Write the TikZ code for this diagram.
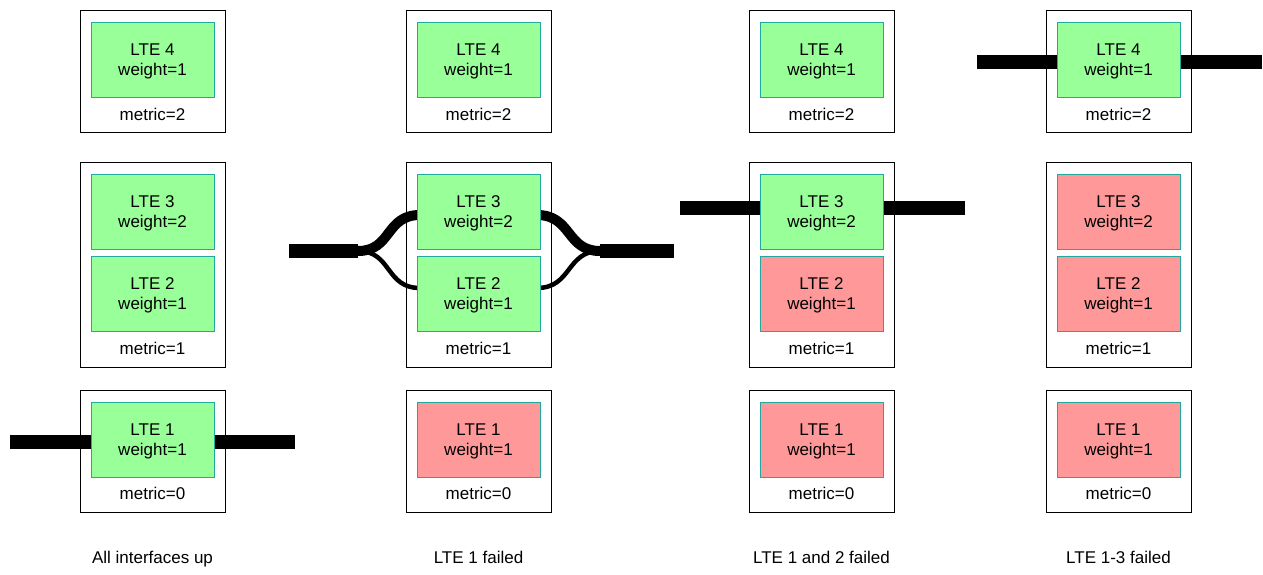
\documentclass[tikz,border=0pt]{standalone}
\usepackage{fontspec}
\setmainfont{Liberation Sans}
\usetikzlibrary{positioning}

\definecolor{upfill}{HTML}{99FF99}
\definecolor{downfill}{HTML}{FF9999}
\definecolor{lteedge}{HTML}{22A89E}

\begin{document}
\begin{tikzpicture}[
      x=1pt, y=-1pt,
      group/.style={
        draw,
        fill=white,
        line width=0.8pt,
        minimum width=145pt,
        inner sep=0pt
      },
      lte/.style={
        draw=lteedge,
        line width=1pt,
        minimum width=123pt,
        minimum height=75pt,
        inner sep=0pt,
        align=center,
        text depth=-2pt,
        font=\fontsize{17}{20}\selectfont
      },
      label/.style={
        text height=12pt,
        text depth=4pt,
        font=\fontsize{17}{20}\selectfont
      },
      link/.style={line width=14pt}
    ]
    \useasboundingbox (0,0) rectangle (1263,574);
    %% Groups
    \foreach \c/\x in {1/152.5, 2/478.5, 3/821.5, 4/1118.5} {
      \node[group, minimum height=122pt] (top-\c) at (\x,71) {};
      \node[group, minimum height=205pt] (mid-\c) at (\x,264.5) {};
      \node[group, minimum height=122pt] (bot-\c) at (\x,451) {};
    }
    %% Traffic
    \coordinate (in-1) at (10,442);
    \coordinate (out-1) at (295,442);
    \draw[link] (in-1) -- (out-1);
    \coordinate (in-3) at (680,208);
    \coordinate (out-3) at (965,208);
    \draw[link] (in-3) -- (out-3);
    \coordinate (in-4) at (977,62);
    \coordinate (out-4) at (1262,62);
    \draw[link] (in-4) -- (out-4);
    %% Load sharing over LTE 2 and 3
    \coordinate (in-2) at (289,251);
    \coordinate (split-l) at (358,251);
    \coordinate (split-r) at (600,251);
    \coordinate (out-2) at (674,251);
    \coordinate (lte3-w) at (420,215);
    \coordinate (lte3-e) at (537,215);
    \coordinate (lte2-w) at (420,288);
    \coordinate (lte2-e) at (537,288);
    \draw[link] (in-2) -- (split-l);
    \draw[link] (split-r) -- (out-2);
    \draw[line width=10pt] (split-l) .. controls (392,251) and (385,215) .. (lte3-w);
    \draw[line width=4.5pt] (split-l) .. controls (392,251) and (385,288) .. (lte2-w);
    \draw[line width=10pt] (lte3-e) .. controls (572,215) and (566,251) .. (split-r);
    \draw[line width=4.5pt] (lte2-e) .. controls (572,288) and (566,251) .. (split-r);
    %% Interfaces
    \foreach \c/\x/\fa/\fb/\fc/\fd/\cap in {
        1/152.5/upfill/upfill/upfill/upfill/{All interfaces up},
        2/478.5/downfill/upfill/upfill/upfill/{LTE 1 failed},
        3/821.5/downfill/downfill/upfill/upfill/{LTE 1 and 2 failed},
        4/1118.5/downfill/downfill/downfill/upfill/{LTE 1-3 failed}} {
      \node[lte, fill=\fd] (lte-\c-4) at (\x,59.5) {LTE 4\\weight=1};
      \node[lte, fill=\fc] (lte-\c-3) at (\x,211.5) {LTE 3\\weight=2};
      \node[lte, fill=\fb] (lte-\c-2) at (\x,293.5) {LTE 2\\weight=1};
      \node[lte, fill=\fa] (lte-\c-1) at (\x,439.5) {LTE 1\\weight=1};
      \node[label] (metric-\c-2) at (\x,116) {metric=2};
      \node[label] (metric-\c-1) at (\x,350) {metric=1};
      \node[label] (metric-\c-0) at (\x,495) {metric=0};
      \node[label] (caption-\c) at (\x,559) {\cap};
    }
  \end{tikzpicture}
\end{document}
